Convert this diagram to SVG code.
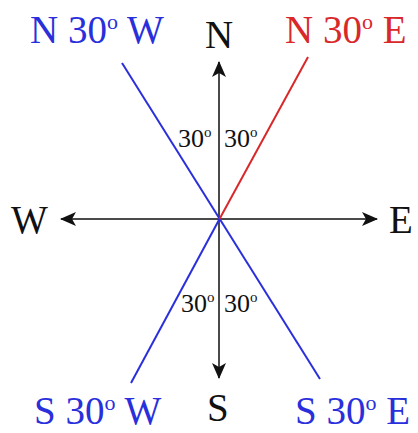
<svg xmlns="http://www.w3.org/2000/svg" width="418" height="433" viewBox="0 0 418 433">
<style>
text{font-family:"Liberation Serif","Times New Roman",serif}
.big{font-size:39px}
.lbl{font-size:26px;fill:#111}
.sup{font-size:22px}
.sups{font-size:15px}
.blue{fill:#2a2fdc}
.red{fill:#d8282a}
.blk{fill:#111}
.axis{stroke:#4a4a4a;stroke-width:2;fill:none}
.bl{stroke:#2a2fdc;stroke-width:2;fill:none}
.rl{stroke:#d8282a;stroke-width:2;fill:none}
</style>
<defs>
<marker id="ah" viewBox="0 0 16 14" refX="15" refY="7" markerWidth="16" markerHeight="14" markerUnits="userSpaceOnUse" orient="auto">
<path d="M0,0 L16,7 L0,14 L4,7 Z" fill="#111"/>
</marker>
</defs>
<rect width="418" height="433" fill="#fff"/>
<g id="connectors">
<line class="axis" x1="219" y1="219" x2="219" y2="62" marker-end="url(#ah)"/>
<line class="axis" x1="219" y1="219" x2="219" y2="378" marker-end="url(#ah)"/>
<line class="axis" x1="219" y1="219" x2="61" y2="219" marker-end="url(#ah)"/>
<line class="axis" x1="219" y1="219" x2="377" y2="219" marker-end="url(#ah)"/>
<line class="bl" x1="122" y1="63" x2="320" y2="379"/>
<line class="bl" x1="131" y1="383" x2="219.5" y2="219"/>
<line class="rl" x1="219.5" y1="219" x2="308" y2="57"/>
</g>
<g id="N"><text class="big blk" x="205" y="48">N</text></g>
<g id="S"><text class="big blk" x="207" y="421">S</text></g>
<g id="W"><text class="big blk" x="11" y="233">W</text></g>
<g id="E"><text class="big blk" x="389" y="233">E</text></g>
<g id="N30W"><text class="big blue" x="30" y="43">N 30<tspan class="sup" dy="-14">o</tspan><tspan dy="14"> W</tspan></text></g>
<g id="N30E"><text class="big red" x="285" y="43">N 30<tspan class="sup" dy="-14">o</tspan><tspan dy="14"> E</tspan></text></g>
<g id="S30W"><text class="big blue" x="34" y="424">S 30<tspan class="sup" dy="-14">o</tspan><tspan dy="14"> W</tspan></text></g>
<g id="S30E"><text class="big blue" x="295" y="424">S 30<tspan class="sup" dy="-14">o</tspan><tspan dy="14"> E</tspan></text></g>
<g id="a1"><text class="lbl" x="178" y="147">30<tspan class="sups" dy="-10">o</tspan></text></g>
<g id="a2"><text class="lbl" x="224" y="147">30<tspan class="sups" dy="-10">o</tspan></text></g>
<g id="a3"><text class="lbl" x="181" y="312">30<tspan class="sups" dy="-10">o</tspan></text></g>
<g id="a4"><text class="lbl" x="224" y="312">30<tspan class="sups" dy="-10">o</tspan></text></g>
</svg>
